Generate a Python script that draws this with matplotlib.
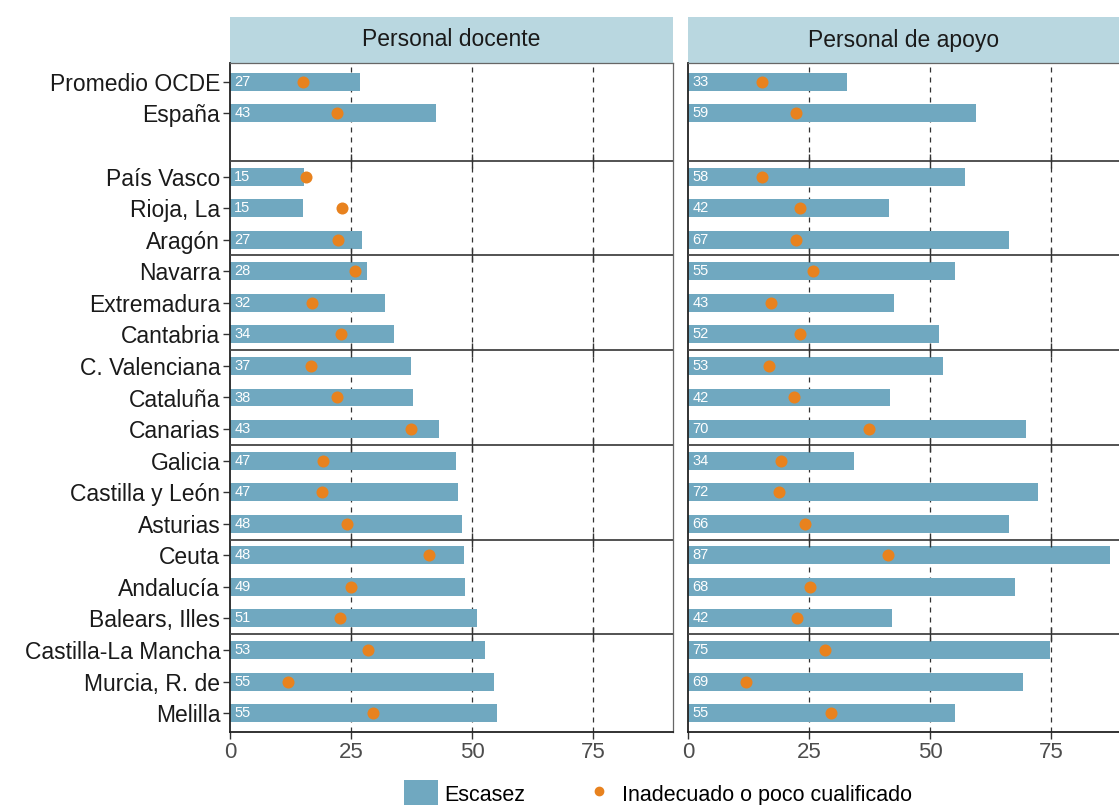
import matplotlib.pyplot as plt
import matplotlib.patches as mpatches
from matplotlib.lines import Line2D

plt.rcParams['font.family'] = ['Liberation Sans', 'DejaVu Sans']

regiones = ["Promedio OCDE", "España", "", "País Vasco", "Rioja, La", "Aragón",
            "Navarra", "Extremadura", "Cantabria", "C. Valenciana", "Cataluña",
            "Canarias", "Galicia", "Castilla y León", "Asturias", "Ceuta",
            "Andalucía", "Balears, Illes", "Castilla-La Mancha", "Murcia, R. de",
            "Melilla"]

# None = fila vacía
docente_escasez = [26.9, 42.5, None, 15.2, 15.1, 27.3, 28.4, 32.1, 33.8, 37.3, 37.9,
                   43.1, 46.7, 47.1, 47.9, 48.3, 48.6, 51.1, 52.6, 54.6, 55.2]
docente_etiq = ["27", "43", "", "15", "15", "27", "28", "32", "34", "37", "38",
                "43", "47", "47", "48", "48", "49", "51", "53", "55", "55"]
docente_inadec = [15.1, 22.2, None, 15.7, 23.2, 22.4, 25.9, 16.9, 22.9, 16.7, 22.0,
                  37.4, 19.3, 18.9, 24.2, 41.2, 25.0, 22.7, 28.6, 11.9, 29.6]

apoyo_escasez = [32.8, 59.4, None, 57.3, 41.5, 66.4, 55.1, 42.6, 51.9, 52.6, 41.8,
                 69.8, 34.3, 72.3, 66.3, 87.1, 67.5, 42.2, 74.8, 69.2, 55.1]
apoyo_etiq = ["33", "59", "", "58", "42", "67", "55", "43", "52", "53", "42",
              "70", "34", "72", "66", "87", "68", "42", "75", "69", "55"]
apoyo_inadec = [15.2, 22.3, None, 15.3, 23.1, 22.3, 25.9, 17.1, 23.1, 16.7, 21.9,
                37.3, 19.2, 18.7, 24.1, 41.4, 25.1, 22.5, 28.4, 11.9, 29.6]

paneles = ["Personal docente", "Personal de apoyo"]
separadores = [2.5, 5.5, 8.5, 11.5, 14.5, 17.5]
xticks = [0, 25, 50, 75]

azul = "#70a8c0"
naranja = "#e8821e"
tira = "#b9d7e0"

fig = plt.figure(figsize=(11.19, 8.05), dpi=100)
W, H = 1119, 805
ax1 = fig.add_axes([230 / W, 1 - 732 / H, 443 / W, 669 / H])
ax2 = fig.add_axes([688 / W, 1 - 732 / H, 443 / W, 669 / H])

datos = [(ax1, docente_escasez, docente_etiq, docente_inadec),
         (ax2, apoyo_escasez, apoyo_etiq, apoyo_inadec)]

for i, (ax, esc, etq, ina) in enumerate(datos):
    ys = [j for j, v in enumerate(esc) if v is not None]
    ax.barh(ys, [esc[j] for j in ys], height=0.57, color=azul, zorder=2)
    ax.scatter([ina[j] for j in ys], ys, s=75, color=naranja, zorder=4, linewidths=0)
    for j in ys:
        ax.text(0.9, j, etq[j], color="white", fontsize=10.5, va="center", ha="left", zorder=5)
    for x in xticks[1:]:
        ax.axvline(x, color="#333333", lw=0.9, ls=(0, (4, 4)), zorder=1)
    for s in separadores:
        ax.axhline(s, color="#444444", lw=1.3, zorder=3)
        ax.scatter(xticks[1:], [s] * 3, marker="|", s=90, color="#333333", lw=1.0, zorder=3)
    ax.set_xlim(0, 91.5)
    ax.set_ylim(20.6, -0.6)
    ax.set_xticks(xticks)
    ax.set_xticklabels([str(t) for t in xticks], fontsize=16, color="#4d4d4d")
    ax.tick_params(axis="x", length=5, width=1.0, color="#333333", pad=2)
    ax.set_yticks(ys)
    if i == 0:
        ax.set_yticklabels([regiones[j] for j in ys], fontsize=16.5, color="#1a1a1a")
        ax.tick_params(axis="y", length=5, width=1.0, color="#333333", pad=2)
    else:
        ax.set_yticklabels([])
        ax.tick_params(axis="y", length=0)
    for sp in ["top", "right"]:
        ax.spines[sp].set_color("#666666")
        ax.spines[sp].set_linewidth(0.9)
    for sp in ["left", "bottom"]:
        ax.spines[sp].set_color("#222222")
        ax.spines[sp].set_linewidth(1.3)
    # tira de faceta
    ax.add_patch(mpatches.Rectangle((0, 1.0), 1, 46 / 669, transform=ax.transAxes,
                                    facecolor=tira, edgecolor="none", clip_on=False))
    cx = 0.5 if i == 0 else (1119 - 688) / 2 / 443
    ax.text(cx, 1.0 + 23 / 669, paneles[i], transform=ax.transAxes,
            ha="center", va="center", fontsize=16.5, color="#1a1a1a")

handles = [mpatches.Patch(facecolor=azul, edgecolor="none"),
           Line2D([], [], marker="o", ls="none", color=naranja, markersize=6)]
fig.legend(handles, ["Escasez", "Inadecuado o poco cualificado"], loc="center",
           bbox_to_anchor=(658 / W, 11 / H), ncol=2, frameon=False, fontsize=15.5,
           handlelength=1.6, handleheight=1.6, columnspacing=2.6, handletextpad=0.3)

fig.savefig("out.png", dpi=100)
